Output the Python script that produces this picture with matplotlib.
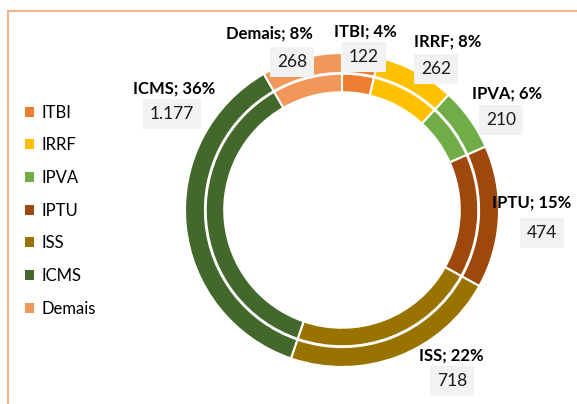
import matplotlib
matplotlib.use("Agg")
import matplotlib.pyplot as plt
from matplotlib.lines import Line2D

plt.rcParams['font.family'] = ['Lato', 'DejaVu Sans']

categories = ["ITBI", "IRRF", "IPVA", "IPTU", "ISS", "ICMS", "Demais"]
values = [122, 262, 210, 474, 718, 1177, 268]
colors = ["#ED7D31", "#FFC000", "#70AD47", "#9E480E", "#997300", "#43682B", "#F1975A"]

# label anchor positions in units of the outer radius
label_pos = [(0.146, 1.140), (0.675, 1.070), (1.051, 0.739), (1.210, 0.045),
             (0.694, -0.924), (-1.070, 0.771), (-0.459, 1.127)]
value_pos = [(0.140, 0.975), (0.599, 0.898), (1.013, 0.573), (1.274, -0.146),
             (0.701, -1.089), (-1.083, 0.611), (-0.318, 0.943)]

W, H = 577, 404
cx, cy, R = 342, 210, 157

fig = plt.figure(figsize=(W / 100, H / 100), dpi=100)
ax = fig.add_axes([0, 0, 1, 1])

outer, _ = ax.pie(values, radius=1.0, colors=colors, startangle=90, counterclock=False,
                  wedgeprops=dict(width=0.127, edgecolor='white', linewidth=1.5))
inner, _ = ax.pie(values, radius=0.868, colors=colors, startangle=90, counterclock=False,
                  wedgeprops=dict(width=0.118, edgecolor='white', linewidth=1.5))

ax.set_xlim(-cx / R, (W - cx) / R)
ax.set_ylim(-(H - cy) / R, cy / R)
ax.set_aspect('auto')
ax.axis('off')

total = sum(values)
for cat, v, lp, vp in zip(categories, values, label_pos, value_pos):
    pct = round(100 * v / total)
    ax.text(lp[0], lp[1], f"{cat}; {pct}%", ha='center', va='center',
            fontsize=12, fontweight='bold', color='black')
    ax.text(vp[0], vp[1], f"{v:,}".replace(",", "."), ha='center', va='center',
            fontsize=12.5, color='#1a1a1a',
            bbox=dict(boxstyle='square,pad=0.38', fc='#F2F2F2', ec='none'))

leg = ax.legend(outer, categories, loc='center left',
                bbox_to_anchor=(25 / W, 1 - 210.5 / H), bbox_transform=fig.transFigure,
                frameon=False, fontsize=12, handlelength=0.55, handleheight=0.55,
                handletextpad=0.45, labelspacing=1.0, borderpad=0, borderaxespad=0)
for h in leg.legend_handles:
    h.set_edgecolor('none')

fc = '#F4A46E'
fig.add_artist(Line2D([8 / W, 1], [1 - 11 / H, 1 - 11 / H], transform=fig.transFigure,
                      color=fc, lw=1.2))
fig.add_artist(Line2D([8 / W, 8 / W], [0, 1 - 11 / H], transform=fig.transFigure,
                      color=fc, lw=1.2))

fig.savefig("out.png", dpi=100)
